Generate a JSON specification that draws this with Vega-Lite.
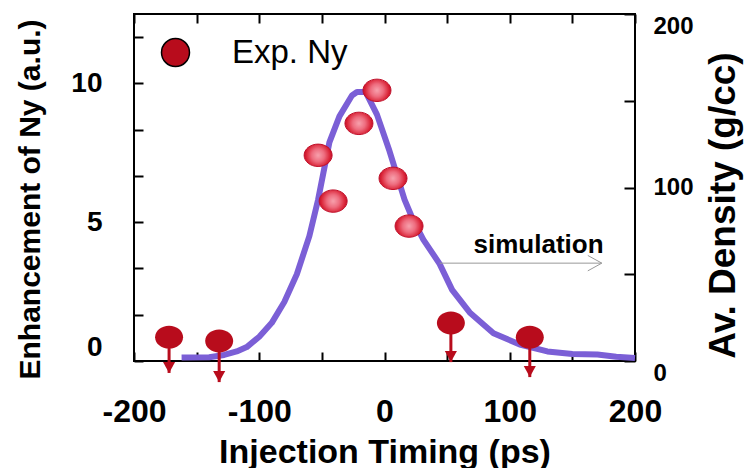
{
  "$schema": "https://vega.github.io/schema/vega-lite/v6.json",
  "width": 501,
  "height": 347,
  "autosize": {"type": "none"},
  "padding": {"left": 134, "top": 14, "right": 114, "bottom": 107},
  "background": "white",
  "config": {
    "font": "Liberation Sans",
    "view": {"stroke": "black", "strokeWidth": 2},
    "axis": {
      "grid": false,
      "ticks": true,
      "domain": false,
      "zindex": 1,
      "tickColor": "black",
      "tickWidth": 2,
      "labelColor": "black",
      "titleColor": "black",
      "labelFont": "Liberation Sans",
      "titleFont": "Liberation Sans"
    }
  },
  "datasets": {
    "sim": [
      {"t": -162, "density": 2},
      {"t": -140, "density": 2.2},
      {"t": -128, "density": 3.5},
      {"t": -118, "density": 5.5},
      {"t": -110, "density": 8},
      {"t": -100, "density": 14},
      {"t": -90, "density": 22},
      {"t": -80, "density": 34},
      {"t": -70, "density": 50},
      {"t": -60, "density": 72},
      {"t": -53, "density": 93},
      {"t": -44, "density": 126},
      {"t": -36, "density": 141},
      {"t": -26, "density": 153},
      {"t": -22, "density": 155},
      {"t": -15, "density": 155},
      {"t": -6, "density": 142},
      {"t": 4, "density": 121},
      {"t": 16, "density": 93},
      {"t": 23, "density": 81},
      {"t": 31, "density": 70},
      {"t": 44, "density": 56},
      {"t": 54, "density": 41},
      {"t": 68, "density": 28},
      {"t": 87, "density": 16},
      {"t": 108, "density": 9.5},
      {"t": 130, "density": 5.5},
      {"t": 150, "density": 4},
      {"t": 170, "density": 3.8},
      {"t": 185, "density": 2.5},
      {"t": 200, "density": 1.7}
    ],
    "exp": [
      {"t": -53, "ny": 7.41},
      {"t": -41, "ny": 5.76},
      {"t": -20.4, "ny": 8.56},
      {"t": -6, "ny": 9.75},
      {"t": 6.8, "ny": 6.58},
      {"t": 19.6, "ny": 4.86}
    ],
    "ul": [
      {"t": -172, "ny": 0.86, "tip": -0.43, "series": "Exp. Ny"},
      {"t": -132, "ny": 0.72, "tip": -0.76, "series": "Exp. Ny"},
      {"t": 53, "ny": 1.37, "tip": -0.04, "series": "Exp. Ny"},
      {"t": 116, "ny": 0.86, "tip": -0.58, "series": "Exp. Ny"}
    ],
    "note": [
      {"t": 123, "density": 62.2, "label": "simulation"}
    ],
    "pointer": [
      {"t": 44, "t2": 173.5, "density": 56.4}
    ]
  },
  "resolve": {
    "scale": {"y": "independent"},
    "axis": {"x": "independent", "y": "independent"}
  },
  "layer": [
    {
      "data": {"name": "sim"},
      "mark": {"type": "line", "color": "#7b5fd6", "strokeWidth": 6, "strokeJoin": "round"},
      "encoding": {
        "x": {
          "field": "t", "type": "quantitative",
          "scale": {"domain": [-200, 200], "nice": false, "zero": false},
          "axis": {
            "orient": "bottom",
            "offset": -9,
            "values": [-200, -150, -100, -50, 0, 50, 100, 150, 200],
            "labelExpr": "datum.value % 100 == 0 ? '' + datum.value : ''",
            "tickSize": 9,
            "labelPadding": 35,
            "labelFontSize": 32,
            "labelFontWeight": "bold",
            "labelFlush": false,
            "title": "Injection Timing (ps)",
            "titleFontSize": 34,
            "titleFontWeight": "bold",
            "titleBaseline": "alphabetic",
            "titleY": 110
          }
        },
        "y": {
          "field": "density", "type": "quantitative",
          "scale": {"domain": [0, 200], "nice": false},
          "axis": {
            "orient": "right",
            "offset": -11,
            "values": [0, 50, 100, 150, 200],
            "labelExpr": "datum.value % 100 == 0 ? '' + datum.value : ''",
            "tickSize": 11,
            "labelPadding": 18,
            "labelFontSize": 24,
            "labelFontWeight": "bold",
            "labelBaseline": {"condition": {"test": "datum.value == 100", "value": "middle"}, "value": "top"},
            "title": "Av. Density (g/cc)",
            "titleFontSize": 37,
            "titleFontWeight": "bold",
            "titleAngle": -90,
            "titleBaseline": "bottom",
            "titleX": 118,
            "titleY": 191
          }
        }
      }
    },
    {
      "data": {"name": "pointer"},
      "mark": {"type": "rule", "color": "#999999", "strokeWidth": 1},
      "encoding": {
        "x": {"field": "t", "type": "quantitative", "scale": {"domain": [-200, 200], "nice": false, "zero": false}, "axis": null},
        "x2": {"field": "t2"},
        "y": {"field": "density", "type": "quantitative", "scale": {"domain": [0, 200], "nice": false}, "axis": null}
      }
    },
    {
      "data": {"name": "pointer"},
      "mark": {"type": "point", "shape": "M-1,-0.55L0,0L-1,0.55", "size": 784, "filled": false, "stroke": "#999999", "strokeWidth": 1, "opacity": 1},
      "encoding": {
        "x": {"field": "t2", "type": "quantitative", "scale": {"domain": [-200, 200], "nice": false, "zero": false}, "axis": null},
        "y": {"field": "density", "type": "quantitative", "scale": {"domain": [0, 200], "nice": false}, "axis": null}
      }
    },
    {
      "data": {"name": "note"},
      "mark": {"type": "text", "fontSize": 26, "fontWeight": "bold", "align": "center", "baseline": "alphabetic", "color": "black", "font": "Liberation Sans"},
      "encoding": {
        "x": {"field": "t", "type": "quantitative", "scale": {"domain": [-200, 200], "nice": false, "zero": false}, "axis": null},
        "y": {"field": "density", "type": "quantitative", "scale": {"domain": [0, 200], "nice": false}, "axis": null},
        "text": {"field": "label"}
      }
    },
    {
      "data": {"name": "ul"},
      "mark": {"type": "rule", "color": "#b80c1c", "strokeWidth": 3},
      "encoding": {
        "x": {"field": "t", "type": "quantitative", "scale": {"domain": [-200, 200], "nice": false, "zero": false}, "axis": null},
        "y": {"field": "ny", "type": "quantitative", "scale": {"domain": [0, 12.5], "nice": false}, "axis": null},
        "y2": {"field": "tip"}
      }
    },
    {
      "data": {"name": "ul"},
      "mark": {"type": "point", "shape": "M-0.55,-1L0.55,-1L0,0Z", "size": 484, "filled": true, "fill": "#b80c1c", "strokeWidth": 0, "opacity": 1},
      "encoding": {
        "x": {"field": "t", "type": "quantitative", "scale": {"domain": [-200, 200], "nice": false, "zero": false}, "axis": null},
        "y": {"field": "tip", "type": "quantitative", "scale": {"domain": [0, 12.5], "nice": false}, "axis": null}
      }
    },
    {
      "data": {"name": "ul"},
      "mark": {"type": "point", "shape": "M-1,0A1,0.82,0,1,1,1,0A1,0.82,0,1,1,-1,0Z", "size": 784, "filled": true, "strokeWidth": 0, "opacity": 1},
      "encoding": {
        "x": {"field": "t", "type": "quantitative", "scale": {"domain": [-200, 200], "nice": false, "zero": false}, "axis": null},
        "y": {"field": "ny", "type": "quantitative", "scale": {"domain": [0, 12.5], "nice": false}, "axis": null},
        "color": {
          "field": "series", "type": "nominal",
          "scale": {"range": ["#b80c1c"]},
          "legend": {
            "orient": "none",
            "legendX": 25,
            "legendY": 22,
            "title": null,
            "padding": 0,
            "symbolType": "circle",
            "symbolSize": 784,
            "symbolFillColor": "#b80c1c",
            "symbolStrokeColor": "black",
            "symbolStrokeWidth": 1.5,
            "symbolOpacity": 1,
            "labelFontSize": 33,
            "labelFont": "Liberation Sans",
            "labelColor": "black",
            "labelOffset": 40
          }
        }
      }
    },
    {
      "data": {"name": "exp"},
      "mark": {
        "type": "point",
        "shape": "M-1,0A1,0.8,0,1,1,1,0A1,0.8,0,1,1,-1,0Z",
        "size": 784,
        "filled": true,
        "opacity": 1,
        "fill": {
          "gradient": "radial",
          "x1": 0.5, "y1": 0.5, "r1": 0,
          "x2": 0.5, "y2": 0.5, "r2": 0.5,
          "stops": [
            {"offset": 0, "color": "#f7a1ad"},
            {"offset": 0.45, "color": "#ee6d7f"},
            {"offset": 0.85, "color": "#d92336"},
            {"offset": 1, "color": "#c4102a"}
          ]
        },
        "stroke": "#c0102a",
        "strokeWidth": 1
      },
      "encoding": {
        "x": {
          "field": "t", "type": "quantitative",
          "scale": {"domain": [-200, 200], "nice": false, "zero": false},
          "axis": {
            "orient": "top",
            "offset": -9,
            "values": [-200, -150, -100, -50, 0, 50, 100, 150, 200],
            "labels": false,
            "title": null,
            "tickSize": 9
          }
        },
        "y": {
          "field": "ny", "type": "quantitative",
          "scale": {"domain": [0, 12.5], "nice": false},
          "axis": {
            "orient": "left",
            "offset": -9,
            "values": [0, 1.6667, 3.3333, 5, 6.6667, 8.3333, 10, 11.6667],
            "labelExpr": "datum.value == 0 || datum.value == 5 || datum.value == 10 ? '' + datum.value : ''",
            "tickSize": 9,
            "labelPadding": 32,
            "labelFontSize": 28,
            "labelFontWeight": "bold",
            "labelFlush": true,
            "title": "Enhancement of Ny (a.u.)",
            "titleFontSize": 30,
            "titleFontWeight": "bold",
            "titleAngle": -90,
            "titleBaseline": "bottom",
            "titleX": -98,
            "titleY": 185
          }
        }
      }
    }
  ]
}
